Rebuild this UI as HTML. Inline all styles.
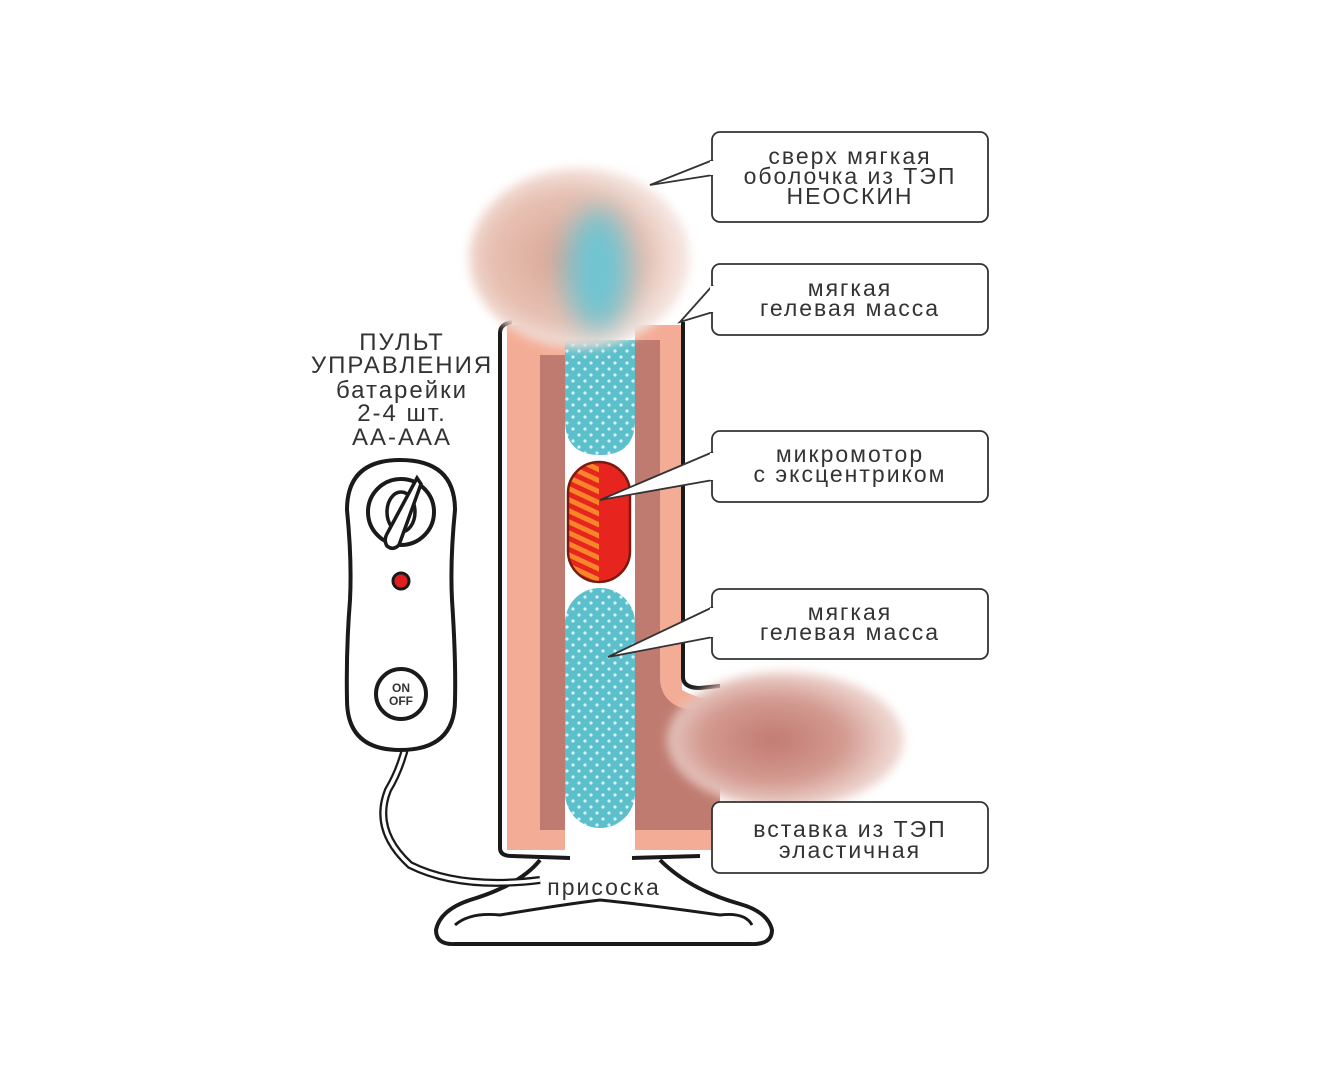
<!DOCTYPE html>
<html><head><meta charset="utf-8"><style>
html,body{margin:0;padding:0;background:#fff}
svg{display:block}
text{font-family:"Liberation Sans","DejaVu Sans",sans-serif;fill:#333;font-size:23px;letter-spacing:2px;text-anchor:middle}
</style></head><body>
<svg width="1320" height="1080" viewBox="0 0 1320 1080">
<defs>
<pattern id="dots" width="12" height="12" patternUnits="userSpaceOnUse">
<rect width="12" height="12" fill="#5bbfcc"/>
<circle cx="3" cy="3" r="1.6" fill="#d8f1f4"/><circle cx="9" cy="9" r="1.6" fill="#d8f1f4"/>
</pattern>
<pattern id="stripes" width="10" height="10" patternUnits="userSpaceOnUse" patternTransform="rotate(25)">
<rect width="10" height="10" fill="#e8241f"/><rect width="10" height="5" fill="#f7862a"/>
</pattern>
<radialGradient id="head" cx="0.45" cy="0.5" r="0.5">
<stop offset="0" stop-color="#d9a595"/><stop offset="0.7" stop-color="#e7c0b2"/><stop offset="1" stop-color="#f4e2dc"/>
</radialGradient>
<radialGradient id="ball" cx="0.45" cy="0.5" r="0.5">
<stop offset="0" stop-color="#c27a72"/><stop offset="0.6" stop-color="#d39a90"/><stop offset="1" stop-color="#ecd2cc"/>
</radialGradient>
<filter id="blur" x="-30%" y="-30%" width="160%" height="160%"><feGaussianBlur stdDeviation="5"/></filter>
<filter id="blur2" x="-100%" y="-60%" width="300%" height="220%"><feGaussianBlur stdDeviation="14"/></filter>
</defs>

<rect x="507" y="325" width="175" height="525" fill="#f3ad96"/>
<path d="M660 325 L682 325 L682 690 Q700 700 720 700 L720 850 L660 850 Z" fill="#f3ad96"/>
<rect x="540" y="355" width="27" height="475" fill="#bf7b70"/>
<path d="M633 340 L660 340 L660 680 Q662 705 690 710 L720 712 L720 830 L633 830 Z" fill="#bf7b70"/>
<rect x="565" y="325" width="70" height="530" fill="#fff"/>
<path d="M500 333 Q500 324 512 322 M500 333 L500 848 Q500 856 512 856 L570 858 M632 858 L700 856 M683 322 L683 678 Q684 688 700 688 L720 686" fill="none" stroke="#1a1a1a" stroke-width="4"/>

<path d="M565 340 L635 340 L635 420 Q635 455 600 455 Q565 455 565 420 Z" fill="url(#dots)"/>
<rect x="568" y="462" width="62" height="120" rx="31" fill="url(#stripes)"/>
<path d="M599 463 L599 581 Q629 581 629 550 L629 494 Q629 463 599 463 Z" fill="#e8241f"/>
<rect x="568" y="462" width="62" height="120" rx="31" fill="none" stroke="#7a1a10" stroke-width="2.5"/>
<rect x="565" y="588" width="70" height="240" rx="35" fill="url(#dots)"/>

<ellipse cx="579" cy="258" rx="110" ry="90" fill="url(#head)" filter="url(#blur)"/>
<ellipse cx="598" cy="270" rx="32" ry="62" fill="#6fc4d2" filter="url(#blur2)"/>
<ellipse cx="785" cy="740" rx="118" ry="68" fill="url(#ball)" filter="url(#blur)"/>

<path d="M540 860 Q520 885 470 900 Q440 910 436 930 Q436 945 455 944 L750 944 Q772 945 772 930 Q768 912 740 904 Q690 890 660 860" fill="#fff" stroke="#1a1a1a" stroke-width="4"/>
<path d="M455 925 Q470 912 500 915 Q560 905 600 900 Q650 905 720 915 Q745 912 752 925" fill="none" stroke="#1a1a1a" stroke-width="3"/>
<text x="604" y="895">присоска</text>

<path d="M406 745 Q400 770 388 790 Q372 830 410 865 Q460 890 540 880" fill="none" stroke="#1a1a1a" stroke-width="8"/>
<path d="M406 745 Q400 770 388 790 Q372 830 410 865 Q460 890 540 880" fill="none" stroke="#fff" stroke-width="3.5"/>

<path d="M400 460 Q455 460 455 510 Q450 560 452 600 Q456 660 455 700 Q455 750 400 750 Q347 750 347 700 Q346 650 350 600 Q352 560 347 510 Q347 460 400 460 Z" fill="#fff" stroke="#1a1a1a" stroke-width="4"/>
<circle cx="401" cy="512" r="33" fill="#fff" stroke="#1a1a1a" stroke-width="4"/>
<ellipse cx="401" cy="512" rx="14" ry="20" fill="none" stroke="#1a1a1a" stroke-width="3.5"/>
<path d="M417 478 L421 484 L399 545 Q393 551 387 546 Q383 540 388 532 Z" fill="#fff" stroke="#1a1a1a" stroke-width="3.5"/>
<circle cx="401" cy="581" r="8" fill="#e01f1f" stroke="#1a1a1a" stroke-width="3"/>
<circle cx="401" cy="694" r="25" fill="#fff" stroke="#1a1a1a" stroke-width="4"/>
<text x="401" y="692" style="font-size:12px;font-weight:bold;letter-spacing:0">ON</text>
<text x="401" y="705" style="font-size:12px;font-weight:bold;letter-spacing:0">OFF</text>

<text x="402" y="350" style="font-size:24px">ПУЛЬТ</text>
<text x="402" y="373" style="font-size:24px">УПРАВЛЕНИЯ</text>
<text x="402" y="398" style="font-size:24px">батарейки</text>
<text x="402" y="421" style="font-size:24px">2-4 шт.</text>
<text x="402" y="445" style="font-size:24px">AA-AAA</text>

<g fill="#fff" stroke="#333" stroke-width="1.8">
<rect x="712" y="132" width="276" height="90" rx="8"/>
<rect x="712" y="264" width="276" height="71" rx="8"/>
<rect x="712" y="431" width="276" height="71" rx="8"/>
<rect x="712" y="589" width="276" height="70" rx="8"/>
<rect x="712" y="802" width="276" height="71" rx="8"/>
</g>
<g fill="#fff" stroke="#333" stroke-width="1.8">
<path d="M713 160 L650 185 L713 175"/>
<path d="M713 285 L680 322 L713 312"/>
<path d="M713 452 L600 500 L713 480"/>
<path d="M713 607 L608 657 L713 637"/>
</g>
<g fill="#fff"><rect x="710" y="161" width="5" height="14"/><rect x="710" y="286" width="5" height="26"/><rect x="710" y="453" width="5" height="27"/><rect x="710" y="608" width="5" height="29"/></g>
<text x="850" y="164">сверх мягкая</text>
<text x="850" y="184">оболочка из ТЭП</text>
<text x="850" y="204">НЕОСКИН</text>
<text x="850" y="296">мягкая</text>
<text x="850" y="316">гелевая масса</text>
<text x="850" y="462">микромотор</text>
<text x="850" y="482">с эксцентриком</text>
<text x="850" y="620">мягкая</text>
<text x="850" y="640">гелевая масса</text>
<text x="850" y="837">вставка из ТЭП</text>
<text x="850" y="858">эластичная</text>
</svg>
</body></html>
